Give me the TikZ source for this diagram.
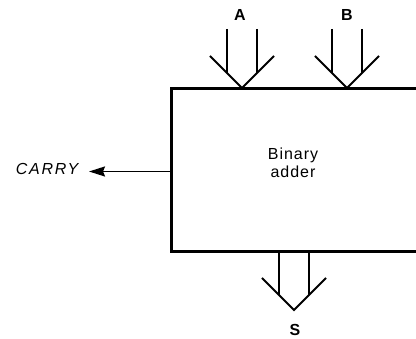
\documentclass[tikz,border=0pt]{standalone}
\usepackage{fontspec}
\setmainfont{Liberation Sans}
\usetikzlibrary{arrows.meta,calc}
\tikzset{
  boxline/.style={line width=3pt, line cap=rect},
  fatarrow/.style={line width=2pt},
  lbl/.style={font=\fontsize{16}{18}\selectfont\bfseries, inner sep=0pt},
  txt/.style={font=\fontsize{16}{18}\selectfont\addfontfeature{LetterSpace=6}, align=center, inner sep=0pt},
  carrytxt/.style={font=\fontsize{16}{18}\selectfont\itshape\addfontfeature{LetterSpace=11}, inner sep=0pt},
}
\newcommand{\dblarrow}[1]{%
  \draw[fatarrow] ($(#1)+(-15,59)$) -- ($(#1)+(-15,15)$);
  \draw[fatarrow] ($(#1)+(15,59)$) -- ($(#1)+(15,15)$);
  \draw[fatarrow, line join=miter] ($(#1)+(-32,32)$) -- (#1) -- ($(#1)+(32,32)$);
}
\begin{document}
\begin{tikzpicture}[x=1pt,y=1pt]
\useasboundingbox (0,0) rectangle (416,339);
% box (open on the right, running past the edge)
\node[minimum width=270pt, minimum height=163pt, anchor=north west, inner sep=0pt, outer sep=0pt] (box) at (171,250) {};
\draw[boxline] (box.north east) -- (box.north west) -- (box.south west) -- (box.south east);
\node[txt] (name) at (293,176) {Binary\\ adder};
% inputs
\coordinate (tipA) at (242,251);
\coordinate (tipB) at (347,251);
\dblarrow{tipA}
\dblarrow{tipB}
\node[lbl] (A) at (240,324) {A};
\node[lbl] (B) at (347,324) {B};
% output S
\coordinate (tipS) at (294,29);
\dblarrow{tipS}
\node[lbl] (S) at (295,9) {S};
% carry
\node[carrytxt] (carry) at (47,170) {CARRY};
\coordinate (carrytip) at (89,167.5);
\draw[line width=1.8pt, -{Stealth[length=16pt,width=10pt,inset=2pt]}] (box.west |- carrytip) -- (carrytip);
\end{tikzpicture}
\end{document}
